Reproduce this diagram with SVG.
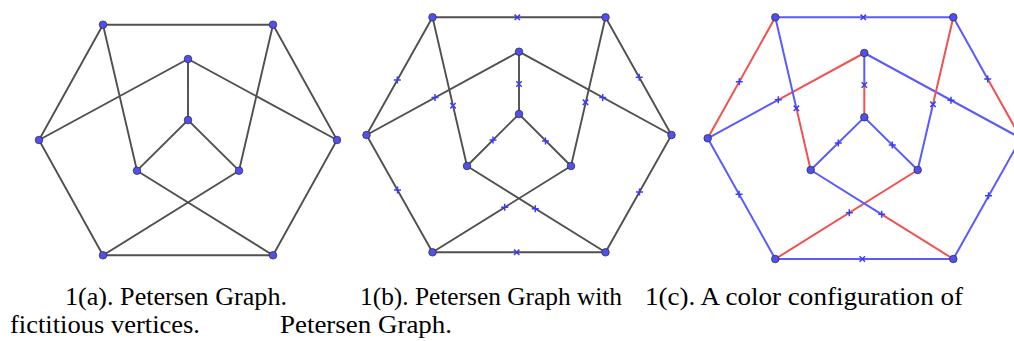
<svg xmlns="http://www.w3.org/2000/svg" width="1014" height="341" viewBox="0 0 1014 341">
<style>
.e{stroke:#505050;stroke-width:1.9;fill:none;stroke-linecap:round}
.b{stroke:#5a5aff;stroke-width:2;fill:none;stroke-linecap:round}
.r{stroke:#f05252;stroke-width:2;fill:none;stroke-linecap:round}
.v{fill:#5050f2;stroke:#2a2a2a;stroke-width:0.7}
.m{stroke:#3a3aff;stroke-width:1.5;fill:none}
.t{font-family:"Liberation Serif","Times New Roman",serif;font-size:26px;fill:#000}
</style>
<defs>
<path id="p" class="m" d="M-3.5,0H3.5M0,-3.5V3.5"/>
<path id="x" class="m" d="M-2.7,-2.7L2.7,2.7M2.7,-2.7L-2.7,2.7"/>
<circle id="d" class="v" r="3.8"/>
</defs>

<!-- Graph (a) -->
<g id="graph-a">
<g id="a-connectors">
<path class="e" d="M103,24.7H273L337,140L273,255.3H103L39,140Z"/>
<path class="e" d="M103,24.7L137,170.7M273,24.7L239,170.7M39,140L188,59L337,140M188,59V120M137,170.7L188,120L239,170.7M137,170.7L273,255.3M239,170.7L103,255.3"/>
</g>
<g id="a-TL"><use href="#d" x="103" y="24.7"/></g>
<g id="a-TR"><use href="#d" x="273" y="24.7"/></g>
<g id="a-L"><use href="#d" x="39" y="140"/></g>
<g id="a-R"><use href="#d" x="337" y="140"/></g>
<g id="a-BL"><use href="#d" x="103" y="255.3"/></g>
<g id="a-BR"><use href="#d" x="273" y="255.3"/></g>
<g id="a-IT"><use href="#d" x="188" y="59"/></g>
<g id="a-C"><use href="#d" x="188" y="120"/></g>
<g id="a-IL"><use href="#d" x="137" y="170.7"/></g>
<g id="a-IR"><use href="#d" x="239" y="170.7"/></g>
</g>

<!-- Graph (b) -->
<g id="graph-b">
<g id="b-connectors">
<path class="e" d="M432.5,17.3H605.5L671.5,135L605.5,252.3H432.5L366.5,135Z"/>
<path class="e" d="M432.5,17.3L467,166M605.5,17.3L571,166M366.5,135L519,51.7L671.5,135M519,51.7V114M467,166L519,114L571,166M467,166L605.5,252.3M571,166L432.5,252.3"/>
<use href="#x" x="517.3" y="17.3"/>
<use href="#p" x="397.3" y="80"/>
<use href="#p" x="435" y="97.5"/>
<use href="#x" x="453" y="105.7"/>
<use href="#x" x="519" y="84"/>
<use href="#p" x="602.7" y="97.5"/>
<use href="#x" x="585.5" y="102.3"/>
<use href="#p" x="639.2" y="77.3"/>
<use href="#p" x="493" y="140"/>
<use href="#p" x="545.5" y="141"/>
<use href="#p" x="397.5" y="190"/>
<use href="#p" x="504.7" y="207.3"/>
<use href="#p" x="535.3" y="208.7"/>
<use href="#p" x="639.5" y="192"/>
<use href="#x" x="516.7" y="252.3"/>
</g>
<g id="b-TL"><use href="#d" x="432.5" y="17.3"/></g>
<g id="b-TR"><use href="#d" x="605.5" y="17.3"/></g>
<g id="b-L"><use href="#d" x="366.5" y="135"/></g>
<g id="b-R"><use href="#d" x="671.5" y="135"/></g>
<g id="b-BL"><use href="#d" x="432.5" y="252.3"/></g>
<g id="b-BR"><use href="#d" x="605.5" y="252.3"/></g>
<g id="b-IT"><use href="#d" x="519" y="51.7"/></g>
<g id="b-C"><use href="#d" x="519" y="114"/></g>
<g id="b-IL"><use href="#d" x="467" y="166"/></g>
<g id="b-IR"><use href="#d" x="571" y="166"/></g>
</g>

<!-- Graph (c) -->
<g id="graph-c">
<g id="c-connectors">
<path class="b" d="M775.3,17.3H953.3"/>
<path class="r" d="M775.3,17.3L707.7,138.3"/>
<path class="b" d="M707.7,138.3L778.3,99.8"/><path class="r" d="M778.3,99.8L864.3,53"/>
<path class="b" d="M775.3,17.3L796.4,108.3"/><path class="r" d="M796.4,108.3L810.7,170"/>
<path class="b" d="M864.3,53V85"/><path class="r" d="M864.3,85V117.3"/>
<path class="b" d="M864.3,53L1021,138.3"/>
<path class="r" d="M953.3,17.3L933,104.3"/><path class="b" d="M933,104.3L917.7,170"/>
<path class="b" d="M953.3,17.3L987.7,79"/><path class="r" d="M987.7,79L1021,138.3"/>
<path class="b" d="M810.7,170L864.3,117.3L917.7,170"/>
<path class="b" d="M707.7,138.3L775.3,259"/>
<path class="r" d="M917.7,170L775.3,259"/>
<path class="b" d="M810.7,170L881.7,214.3"/><path class="r" d="M881.7,214.3L953.3,259"/>
<path class="b" d="M1021,138.3L953.3,259"/>
<path class="b" d="M775.3,259H953.3"/>
<use href="#x" x="863.3" y="17.3"/>
<use href="#p" x="739.3" y="81.7"/>
<use href="#p" x="778.3" y="99.8"/>
<use href="#x" x="796.4" y="108.3"/>
<use href="#x" x="864.3" y="85"/>
<use href="#p" x="951" y="100.2"/>
<use href="#x" x="933" y="104.3"/>
<use href="#p" x="987.7" y="79"/>
<use href="#p" x="838.3" y="142.9"/>
<use href="#p" x="892.3" y="144.9"/>
<use href="#p" x="739.1" y="194.3"/>
<use href="#p" x="849.3" y="212.7"/>
<use href="#p" x="881.7" y="214.3"/>
<use href="#p" x="988.5" y="195.7"/>
<use href="#x" x="862.3" y="259"/>
</g>
<g id="c-TL"><use href="#d" x="775.3" y="17.3"/></g>
<g id="c-TR"><use href="#d" x="953.3" y="17.3"/></g>
<g id="c-L"><use href="#d" x="707.7" y="138.3"/></g>
<g id="c-R"><use href="#d" x="1021" y="138.3"/></g>
<g id="c-BL"><use href="#d" x="775.3" y="259"/></g>
<g id="c-BR"><use href="#d" x="953.3" y="259"/></g>
<g id="c-IT"><use href="#d" x="864.3" y="53"/></g>
<g id="c-C"><use href="#d" x="864.3" y="117.3"/></g>
<g id="c-IL"><use href="#d" x="810.7" y="170"/></g>
<g id="c-IR"><use href="#d" x="917.7" y="170"/></g>
</g>

<g id="captions" font-family="Liberation Serif, Times New Roman, serif">
<text class="t" x="65" y="305" textLength="222" lengthAdjust="spacingAndGlyphs">1(a). Petersen Graph.</text>
<text class="t" x="360" y="305" textLength="262" lengthAdjust="spacingAndGlyphs">1(b). Petersen Graph with</text>
<text class="t" x="645" y="305" textLength="318" lengthAdjust="spacingAndGlyphs">1(c). A color configuration of</text>
<text class="t" x="10" y="333" textLength="190" lengthAdjust="spacingAndGlyphs">fictitious vertices.</text>
<text class="t" x="280" y="333" textLength="172" lengthAdjust="spacingAndGlyphs">Petersen Graph.</text>
</g>
</svg>
